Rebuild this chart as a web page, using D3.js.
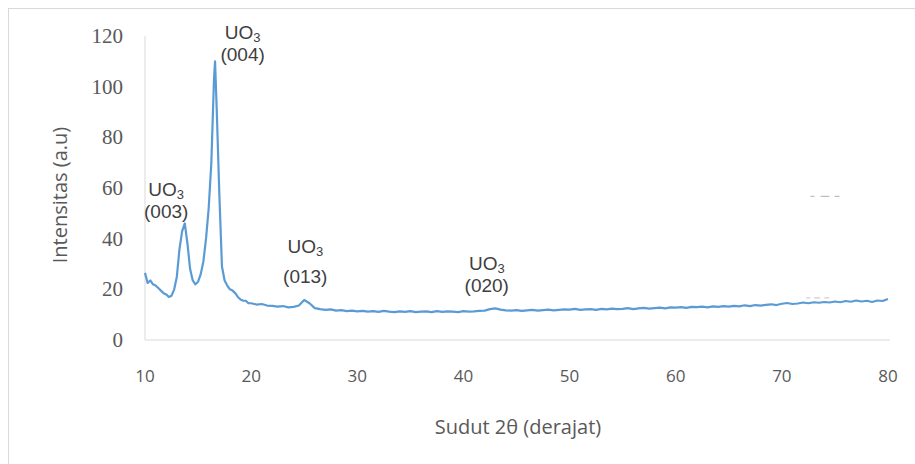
<!DOCTYPE html>
<html>
<head>
<meta charset="utf-8">
<script src="https://cdn.jsdelivr.net/npm/d3@7"></script>
<style>
  body { margin: 0; background: #fff; }
  .tick-y { font-family: "Liberation Serif", serif; font-size: 21px; fill: #595959; }
  .tick-x { font-family: "Open Sans", sans-serif; font-size: 17px; fill: #595959; }
  .title { font-family: "Open Sans", sans-serif; font-size: 20px; fill: #595959; }
  .peak { font-family: "Liberation Sans", Arial, sans-serif; font-size: 19px; fill: #404040; }
</style>
</head>
<body>
<svg id="chart" width="915" height="464"></svg>
<script>
// diffraction angle (2theta) and intensity
const angles = [
  10, 10.25, 10.5, 10.75, 11, 11.25, 11.5, 11.75, 12, 12.25, 12.5, 12.75,
  13, 13.25, 13.5, 13.75, 14, 14.25, 14.5, 14.75, 15, 15.25, 15.5, 15.75,
  16, 16.25, 16.5, 16.6, 16.75, 17, 17.25, 17.5, 17.75, 18, 18.25, 18.5,
  18.75, 19, 19.25, 19.5, 19.75,
  20, 20.5, 21, 21.5, 22, 22.5, 23, 23.5, 24, 24.5, 25, 25.5, 26, 26.5,
  27, 27.5, 28, 28.5, 29, 29.5, 30, 30.5, 31, 31.5, 32, 32.5, 33, 33.5,
  34, 34.5, 35, 35.5, 36, 36.5, 37, 37.5, 38, 38.5, 39, 39.5, 40, 40.5,
  41, 41.5, 42, 42.5, 43, 43.5, 44, 44.5, 45, 45.5, 46, 46.5, 47, 47.5,
  48, 48.5, 49, 49.5, 50, 50.5, 51, 51.5, 52, 52.5, 53, 53.5, 54, 54.5,
  55, 55.5, 56, 56.5, 57, 57.5, 58, 58.5, 59, 59.5, 60, 60.5, 61, 61.5,
  62, 62.5, 63, 63.5, 64, 64.5, 65, 65.5, 66, 66.5, 67, 67.5, 68, 68.5,
  69, 69.5, 70, 70.5, 71, 71.5, 72, 72.5, 73, 73.5, 74, 74.5, 75, 75.5,
  76, 76.5, 77, 77.5, 78, 78.5, 79, 79.5, 80
];
const intensity = [
  26.5, 22.5, 23.5, 22, 21.5, 20.5, 19.5, 18.5, 18, 17, 17.5, 20,
  25, 36, 43, 46, 38, 28, 23.5, 22, 23, 26, 31, 40,
  52, 70, 103, 110, 92, 58, 29, 23.5, 21.5, 20, 19.5, 18.5,
  17, 16, 15.5, 15.5, 14.5,
  14.5, 14, 14.2, 13.6, 13.5, 13.2, 13.4, 12.9, 13.1, 13.6, 15.8, 14.5, 12.6, 12.2,
  11.9, 12.1, 11.6, 11.8, 11.4, 11.6, 11.3, 11.5, 11.2, 11.4, 11.1, 11.5, 11.2, 11.0,
  11.3, 11.1, 11.4, 11.0, 11.2, 11.3, 11.0, 11.4, 11.1, 11.3, 11.2, 11.0, 11.4, 11.2,
  11.3, 11.5, 11.6, 12.2, 12.5, 12.0, 11.7, 11.6, 11.8, 11.5, 11.7, 11.9, 11.6, 11.8,
  12.0, 11.7, 11.9, 12.1, 12.0, 12.3, 11.9, 12.1, 12.2, 11.9, 12.3, 12.1, 12.4, 12.2,
  12.3, 12.6, 12.2, 12.5, 12.7, 12.4, 12.6, 12.8, 12.5, 12.9, 12.8, 13.0, 12.7, 13.1,
  13.0, 13.2, 12.9, 13.3, 13.1, 13.4, 13.2, 13.5, 13.3, 13.7, 13.4, 13.8, 13.6, 13.9,
  14.1, 13.8, 14.3, 14.6, 14.2, 14.4, 14.8, 14.5, 14.9, 14.7, 15.0, 14.8, 15.2, 14.9,
  15.4, 15.1, 15.6, 15.2, 15.5, 15.0, 15.6, 15.4, 16.2
];

const xTicks = [10, 20, 30, 40, 50, 60, 70, 80];
const yTicks = [0, 20, 40, 60, 80, 100, 120];

// peak annotations: label, 2theta of the text centre, intensity of the upper baseline
const peakLabels = ['(003)', '(004)', '(013)', '(020)'];
const peakAngles = [12.0, 19.2, 25.1, 42.2];
const peakTextY = [57, 118.8, 34.5, 27.5];

const svg = d3.select('#chart');
const padL = 145, padR = 888, padT = 36, padB = 340;

const x = d3.scaleLinear().domain([10, 80]).range([padL, padR]);
const y = d3.scaleLinear().domain([0, 120]).range([padB, padT]);

// outer frame
svg.append('rect')
  .attr('x', 8.5).attr('y', 8.5).attr('width', 920).attr('height', 470)
  .attr('fill', 'none').attr('stroke', '#d9d9d9');

// axis lines
svg.append('line')
  .attr('x1', x(10)).attr('x2', x(10)).attr('y1', y(120)).attr('y2', y(0))
  .attr('stroke', '#d9d9d9');
svg.append('line')
  .attr('x1', x(10)).attr('x2', x(80) + 2).attr('y1', y(0)).attr('y2', y(0))
  .attr('stroke', '#d9d9d9');

svg.selectAll('.tick-y').data(yTicks).enter().append('text')
  .attr('class', 'tick-y')
  .attr('x', 123).attr('y', d => y(d))
  .attr('dy', '0.33em')
  .attr('text-anchor', 'end')
  .text(d => d);

svg.selectAll('.tick-x').data(xTicks).enter().append('text')
  .attr('class', 'tick-x')
  .attr('x', d => x(d)).attr('y', 382)
  .attr('text-anchor', 'middle')
  .text(d => d);

svg.append('text').attr('class', 'title')
  .attr('transform', 'translate(67,195) rotate(-90)')
  .attr('text-anchor', 'middle')
  .text('Intensitas (a.u)');

svg.append('text').attr('class', 'title')
  .attr('x', 518).attr('y', 434)
  .attr('text-anchor', 'middle')
  .text('Sudut 2θ (derajat)');

// faint leftover dashes on the right
svg.append('line')
  .attr('x1', x(72.7)).attr('x2', x(76.8)).attr('y1', y(56.7)).attr('y2', y(56.7))
  .attr('stroke', '#bfbfbf').attr('stroke-width', 1.2).attr('stroke-dasharray', '4,6,9,5,5,22,5,40');
svg.append('line')
  .attr('x1', x(72.3)).attr('x2', x(75.2)).attr('y1', y(16.6)).attr('y2', y(16.6))
  .attr('stroke', '#cfcfcf').attr('stroke-width', 1.2).attr('stroke-dasharray', '4,4,6,4,5,10');

const pts = angles.map((a, i) => [a, intensity[i]]);
const line = d3.line().x(d => x(d[0])).y(d => y(d[1]));

svg.append('path')
  .datum(pts)
  .attr('d', line)
  .attr('fill', 'none')
  .attr('stroke', '#5b9bd5')
  .attr('stroke-width', 2.2)
  .attr('stroke-linejoin', 'round');

peakLabels.forEach((lab, i) => {
  const cx = x(peakAngles[i]);
  const ty = y(peakTextY[i]);
  const t = svg.append('text').attr('class', 'peak')
    .attr('x', cx).attr('y', ty).attr('text-anchor', 'middle');
  t.append('tspan').text('UO');
  t.append('tspan').attr('font-size', '13px').attr('dy', 3).text('3');
  svg.append('text').attr('class', 'peak')
    .attr('x', cx).attr('y', ty + (i === 2 ? 30 : 22)).attr('text-anchor', 'middle')
    .text(lab);
});
</script>
</body>
</html>
